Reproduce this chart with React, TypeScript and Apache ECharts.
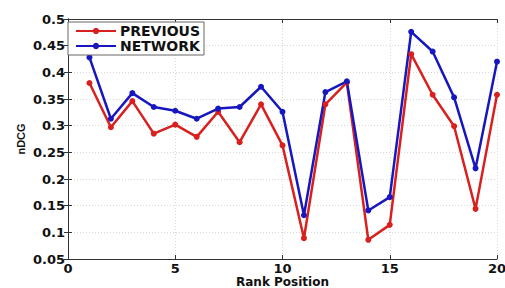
import React, { useEffect, useRef } from "react";
import * as echarts from "echarts";

const ranks = [1, 2, 3, 4, 5, 6, 7, 8, 9, 10, 11, 12, 13, 14, 15, 16, 17, 18, 19, 20];
const previous = [0.38, 0.297, 0.346, 0.285, 0.302, 0.279, 0.326, 0.269, 0.34, 0.263, 0.089, 0.34, 0.381, 0.086, 0.114, 0.434, 0.358, 0.299, 0.144, 0.358];
const network = [0.428, 0.313, 0.361, 0.335, 0.328, 0.313, 0.332, 0.335, 0.373, 0.326, 0.132, 0.363, 0.383, 0.141, 0.166, 0.476, 0.439, 0.353, 0.22, 0.42];

const RED = "#d9201f";
const BLUE = "#1717c0";
const FONT = "DejaVu Sans";

export default function App() {
  const ref = useRef<HTMLDivElement>(null);
  useEffect(() => {
    const chart = echarts.init(ref.current!, null, { renderer: "svg" });
    const axisLabel = { fontFamily: FONT, fontWeight: "bold", fontSize: 13, color: "#111" };
    const splitLine = { show: true, lineStyle: { color: "#d8d8d8", type: [1, 2], width: 1 } };
    chart.setOption({
      animation: false,
      backgroundColor: "#fff",
      grid: { left: 68, right: 8, top: 19, bottom: 29, show: false, outerBoundsMode: "none", containLabel: false },
      legend: {
        left: 68,
        top: 22,
        orient: "vertical",
        itemWidth: 40,
        itemHeight: 8,
        itemGap: 1,
        padding: [2, 4, 2, 7],
        borderColor: "#666",
        borderWidth: 1,
        borderRadius: 0,
        backgroundColor: "#fff",
        textStyle: { fontFamily: FONT, fontWeight: "bold", fontSize: 14, lineHeight: 14, color: "#111", padding: [0, 0, 0, -1] },
        data: ["PREVIOUS", "NETWORK"],
      },
      xAxis: [
        {
          type: "value",
          min: 0,
          max: 20,
          interval: 5,
          name: "Rank Position",
          nameLocation: "middle",
          nameGap: 17,
          nameMoveOverlap: false,
          nameTextStyle: { fontFamily: FONT, fontWeight: "bold", fontSize: 12, color: "#111" },
          axisLine: { onZero: false, lineStyle: { color: "#333", width: 1 } },
          axisTick: { inside: true, length: 4, lineStyle: { color: "#333" } },
          axisLabel: { ...axisLabel, margin: 3 },
          splitLine,
        },
        {
          type: "value",
          position: "top",
          min: 0,
          max: 20,
          interval: 5,
          axisLine: { onZero: false, lineStyle: { color: "#333", width: 1 } },
          axisTick: { inside: true, length: 4, lineStyle: { color: "#333" } },
          axisLabel: { show: false },
          splitLine: { show: false },
        },
      ],
      yAxis: [
        {
          type: "value",
          min: 0.05,
          max: 0.5,
          interval: 0.05,
          name: "nDCG",
          nameLocation: "middle",
          nameGap: 42,
          nameMoveOverlap: false,
          nameTextStyle: { fontFamily: "Liberation Sans", fontWeight: "bold", fontSize: 11, color: "#111" },
          axisLine: { show: true, lineStyle: { color: "#333", width: 1 } },
          axisTick: { show: true, inside: true, length: 4, lineStyle: { color: "#333" } },
          axisLabel: { ...axisLabel, margin: 3, formatter: (v: number) => String(parseFloat(v.toFixed(2))) },
          splitLine,
        },
        {
          type: "value",
          position: "right",
          min: 0.05,
          max: 0.5,
          interval: 0.05,
          axisLine: { show: true, lineStyle: { color: "#333", width: 1 } },
          axisTick: { show: true, inside: true, length: 4, lineStyle: { color: "#333" } },
          axisLabel: { show: false },
          splitLine: { show: false },
        },
      ],
      series: [
        {
          name: "PREVIOUS",
          type: "line",
          data: ranks.map((r, i) => [r, previous[i]]),
          symbol: "circle",
          symbolSize: 6,
          color: RED,
          lineStyle: { width: 2.5, color: RED },
          itemStyle: { color: RED },
        },
        {
          name: "NETWORK",
          type: "line",
          data: ranks.map((r, i) => [r, network[i]]),
          symbol: "circle",
          symbolSize: 6,
          color: BLUE,
          lineStyle: { width: 2.5, color: BLUE },
          itemStyle: { color: BLUE },
        },
      ],
    });
    return () => chart.dispose();
  }, []);
  return <div ref={ref} style={{ width: 505, height: 288, position: "absolute", left: 0, top: 0 }} />;
}
